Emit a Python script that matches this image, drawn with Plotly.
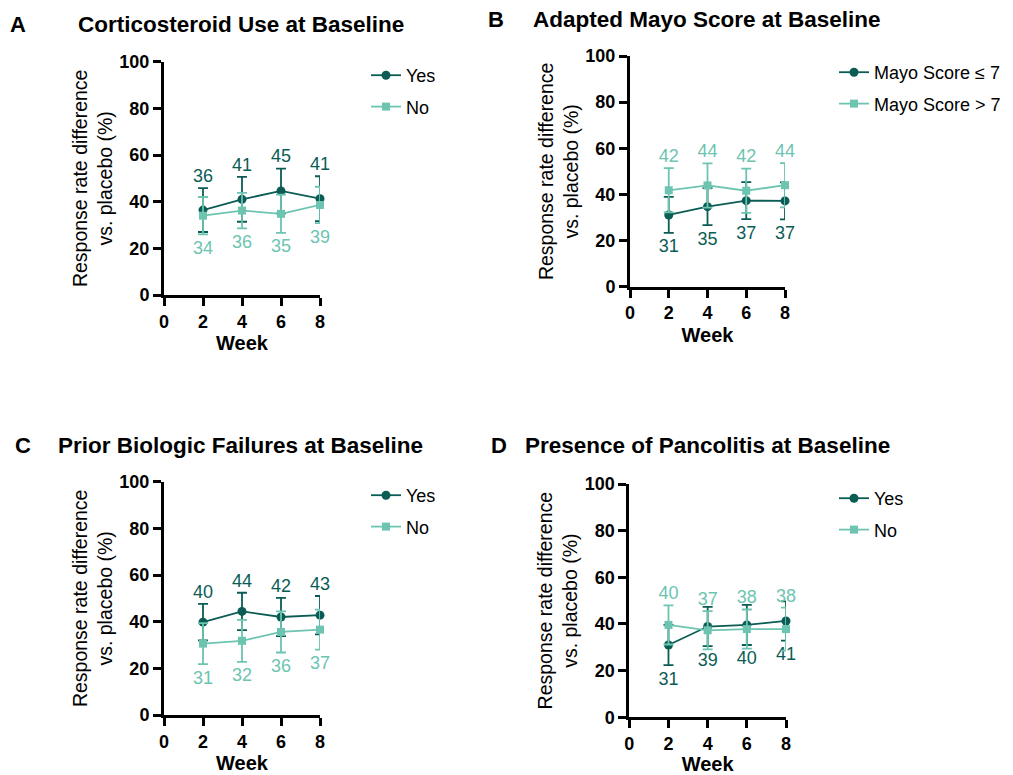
import plotly.graph_objects as go

weeks = [2, 4, 6, 8]

# Panel A: Corticosteroid use
a_yes = [36.4, 41.0, 44.6, 41.3]
a_yes_err = [9.4, 9.6, 9.6, 9.6]
a_no = [34.0, 36.2, 34.8, 38.6]
a_no_err = [8.0, 7.6, 8.2, 7.8]

# Panel B: Mayo score
b_low = [31.1, 34.7, 37.3, 37.2]
b_low_err = [7.8, 8.0, 8.0, 8.0]
b_high = [41.8, 43.9, 41.6, 44.0]
b_high_err = [9.6, 9.6, 9.6, 9.6]

# Panel C: Prior biologic failures
c_yes = [39.8, 44.4, 42.0, 42.8]
c_yes_err = [7.8, 8.0, 8.2, 8.2]
c_no = [30.6, 31.8, 35.6, 36.6]
c_no_err = [8.8, 9.0, 8.8, 8.6]

# Panel D: Pancolitis
d_yes = [31.0, 38.9, 39.6, 41.3]
d_yes_err = [8.6, 8.4, 8.6, 8.4]
d_no = [39.6, 37.3, 37.8, 37.8]
d_no_err = [8.4, 8.2, 8.4, 9.2]

DARK = "#0a5c55"
LIGHT = "#6cc4b1"
FONT = "Arial, Liberation Sans, sans-serif"

panels = [
    dict(letter="A", title="Corticosteroid Use at Baseline",
         s1=("Yes", a_yes, a_yes_err, "top"), s2=("No", a_no, a_no_err, "bottom"),
         x=(164, 320), y=(295, 61.7), leg=(366, 57), lpos=(8, 24), tpos=(76, 24)),
    dict(letter="B", title="Adapted Mayo Score at Baseline",
         s1=("Mayo Score \u2264 7", b_low, b_low_err, "bottom"), s2=("Mayo Score > 7", b_high, b_high_err, "top"),
         x=(630, 785), y=(286.7, 56), leg=(834, 54), lpos=(486, 20), tpos=(531, 20)),
    dict(letter="C", title="Prior Biologic Failures at Baseline",
         s1=("Yes", c_yes, c_yes_err, "top"), s2=("No", c_no, c_no_err, "bottom"),
         x=(164, 320), y=(715, 481.7), leg=(366, 477), lpos=(13, 445), tpos=(56, 445)),
    dict(letter="D", title="Presence of Pancolitis at Baseline",
         s1=("Yes", d_yes, d_yes_err, "bottom"), s2=("No", d_no, d_no_err, "top"),
         x=(629.3, 786), y=(717.3, 484), leg=(834, 480), lpos=(489, 446), tpos=(523, 446)),
]

W, H = 1013, 775
fig = go.Figure()
layout = dict(width=W, height=H,
              margin=dict(l=0, r=0, t=0, b=0, autoexpand=False),
              paper_bgcolor="white", plot_bgcolor="white",
              font=dict(family=FONT, color="black"), annotations=[])

for i, p in enumerate(panels):
    n = i + 1
    xa = "x" if n == 1 else f"x{n}"
    ya = "y" if n == 1 else f"y{n}"
    leg = "legend" if n == 1 else f"legend{n}"
    for (name, vals, errs, side), color, symbol, size in [
        (p["s1"], DARK, "circle", 9), (p["s2"], LIGHT, "square", 8)]:
        fig.add_trace(go.Scatter(
            x=weeks, y=vals, mode="lines+markers", name=name,
            line=dict(color=color, width=1.8),
            marker=dict(color=color, symbol=symbol, size=size),
            error_y=dict(type="data", array=errs, color=color, thickness=1.8, width=5),
            xaxis=xa, yaxis=ya, legend=leg, legendgroup=f"{n}{name}",
            cliponaxis=False))
        if side == "top":
            ty = [v + e for v, e in zip(vals, errs)]
            tp = "top center"
            msize = 1
        else:
            ty = [v - e for v, e in zip(vals, errs)]
            tp = "bottom center"
            msize = 8
        fig.add_trace(go.Scatter(
            x=weeks, y=ty, mode="markers+text", text=[str(round(v)) for v in vals],
            marker=dict(size=msize, opacity=0),
            textposition=tp, textfont=dict(color=color, size=18, family=FONT),
            showlegend=False, hoverinfo="skip", xaxis=xa, yaxis=ya, cliponaxis=False))
    x0, x1 = p["x"]
    y0, y1 = p["y"]
    axis_common = dict(showline=True, linewidth=3, linecolor="black", ticks="outside",
                       ticklen=8, tickwidth=3, tickcolor="black", showgrid=False,
                       zeroline=False, automargin=False,
                       tickfont=dict(size=18, family=FONT, weight="bold"))
    layout["xaxis" if n == 1 else f"xaxis{n}"] = dict(
        axis_common, domain=[x0 / W, x1 / W], range=[0, 8], tickvals=[0, 2, 4, 6, 8],
        anchor=ya, title=dict(text="<b>Week</b>", font=dict(size=20), standoff=6))
    layout["yaxis" if n == 1 else f"yaxis{n}"] = dict(
        axis_common, domain=[1 - y0 / H, 1 - y1 / H], range=[0, 100],
        tickvals=[0, 20, 40, 60, 80, 100], anchor=xa,
        title=dict(text="Response rate difference<br>vs. placebo (%)", font=dict(size=19.5), standoff=2))
    lx, ly = p["leg"]
    layout[leg] = dict(x=lx / W, y=1 - ly / H, xanchor="left", yanchor="top",
                       font=dict(size=18, family=FONT), traceorder="grouped",
                       tracegroupgap=5, bgcolor="rgba(0,0,0,0)")
    lxp, lyp = p["lpos"]
    txp, typ = p["tpos"]
    layout["annotations"].append(dict(text=f"<b>{p['letter']}</b>", x=lxp / W, y=1 - lyp / H,
                                      xref="paper", yref="paper", xanchor="left", yanchor="middle",
                                      showarrow=False, font=dict(size=22, family=FONT)))
    layout["annotations"].append(dict(text=f"<b>{p['title']}</b>", x=txp / W, y=1 - typ / H,
                                      xref="paper", yref="paper", xanchor="left", yanchor="middle",
                                      showarrow=False, font=dict(size=22.5, family=FONT)))

fig.update_layout(**layout)
fig.write_html("out.html")
